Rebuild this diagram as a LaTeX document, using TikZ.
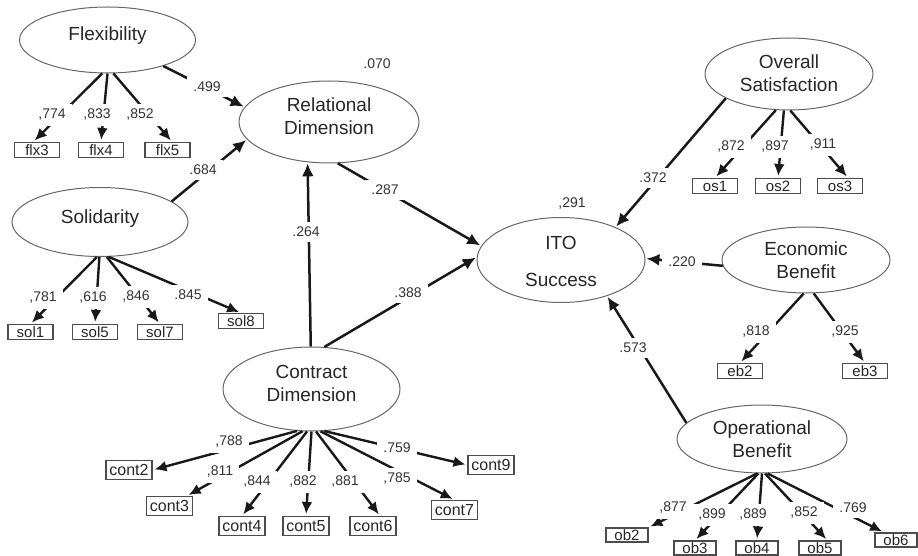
\documentclass[tikz,border=0pt]{standalone}
\usepackage{fontspec}
\setmainfont{Liberation Sans}
\usetikzlibrary{shapes.geometric,arrows.meta}
\newcommand{\latfont}{\fontsize{19}{22.5}\selectfont}
\newcommand{\coeffont}{\fontsize{14}{16}\selectfont}
\newcommand{\indfont}{\fontsize{15}{17}\selectfont}
\newcommand{\cindfont}{\fontsize{16}{18}\selectfont}
\begin{document}
\begin{tikzpicture}[x=1pt,y=-1pt,
  lat/.style={ellipse, draw=black!60, line width=1pt, inner sep=0pt},
  lt/.style={align=center, font=\latfont, text=black!85, inner sep=0pt},
  ind/.style={rectangle, draw=black!70, line width=1.1pt, inner sep=1pt, minimum width=45pt, minimum height=15pt, font=\indfont, text=black!85},
  cind/.style={ind, minimum width=46pt, minimum height=19pt, font=\cindfont},
  oind/.style={ind, minimum width=42pt, minimum height=14pt},
  coef/.style={fill=white, inner xsep=6pt, inner ysep=5pt, font=\coeffont, text=black!80},
  free/.style={font=\coeffont, text=black!80, inner sep=1pt},
  conn/.style={draw=black!90, line width=2.5pt, -{Latex[length=13pt,width=12pt]}, shorten >=1pt},
  load/.style={draw=black!90, line width=2.4pt, -{Latex[length=12pt,width=11pt]}, shorten >=2pt},
]
\useasboundingbox (0,0) rectangle (918,556);

% latent variables
\node[lat, minimum width=176pt, minimum height=66pt, label={[lt,yshift=4pt]center:Flexibility}] (flex) at (107.5,40) {};
\node[lat, minimum width=180pt, minimum height=82pt, label={[lt,yshift=6pt]center:{Relational\\Dimension}}] (rel) at (329,122) {};
\node[lat, minimum width=176pt, minimum height=69pt, label={[lt,yshift=3.5pt]center:Solidarity}] (soli) at (100,222) {};
\node[lat, minimum width=177pt, minimum height=84pt, label={[lt,yshift=5.5pt]center:{Contract\\Dimension}}] (cont) at (311.5,389) {};
\node[lat, minimum width=168pt, minimum height=85pt, label={[lt,yshift=-1.5pt]center:{ITO\\[14.5pt]Success}}] (ito) at (561,260) {};
\node[lat, minimum width=168pt, minimum height=72pt, label={[lt,yshift=1pt]center:{Overall\\Satisfaction}}] (os) at (789,74) {};
\node[lat, minimum width=168pt, minimum height=66pt, label={[lt]center:{Economic\\Benefit}}] (eb) at (806,260) {};
\node[lat, minimum width=170pt, minimum height=68pt, label={[lt]center:{Operational\\Benefit}}] (op) at (762,439) {};

% indicators
\node[ind] (flx3) at (37,150) {flx3};
\node[ind] (flx4) at (101,150) {flx4};
\node[ind] (flx5) at (167.5,150) {flx5};
\node[ind] (sol1) at (30.5,332) {sol1};
\node[ind] (sol5) at (95,332) {sol5};
\node[ind] (sol7) at (160,332) {sol7};
\node[ind] (sol8) at (241,321) {sol8};
\node[ind] (os1) at (715,186) {os1};
\node[ind] (os2) at (778,186) {os2};
\node[ind] (os3) at (840,186) {os3};
\node[ind] (eb2) at (740,371) {eb2};
\node[ind] (eb3) at (865,371) {eb3};
\node[oind] (ob2) at (627,535) {ob2};
\node[oind] (ob3) at (695,548) {ob3};
\node[oind] (ob4) at (757,548) {ob4};
\node[oind] (ob5) at (820,548) {ob5};
\node[oind] (ob6) at (896,540) {ob6};
\node[cind] (cont2) at (129,470) {cont2};
\node[cind] (cont3) at (169.5,506) {cont3};
\node[cind] (cont4) at (242,526) {cont4};
\node[cind] (cont5) at (306,526) {cont5};
\node[cind] (cont6) at (373,526) {cont6};
\node[cind] (cont7) at (454.5,510) {cont7};
\node[cind] (cont9) at (491,465) {cont9};

% structural paths
\draw[conn] (flex.335) -- (rel.170);
\draw[conn] (soli.16) -- (rel.192);
\draw[conn] (rel.282) -- (ito.170);
\draw[conn] (cont.91) -- (rel.242);
\draw[conn] (cont.73) -- (ito.178);
\draw[conn] (os.201) -- (ito.31);
\draw[conn] (eb.184) -- (ito.1);
\draw[conn] (op.168) -- (ito.322);

% loadings
\draw[load] (flex.261) -- (flx3.115);
\draw[load] (flex.270) -- (flx4.north);
\draw[load] (flex.280) -- (flx5.60);
\draw[load] (soli.265) -- (sol1.north);
\draw[load] (soli.269) -- (sol5.north);
\draw[load] (soli.281) -- (sol7.north);
\draw[load] (soli.284) -- (sol8.north);
\draw[load] (os.250) -- (os1.north);
\draw[load] (os.262) -- (os2.north);
\draw[load] (os.272) -- (os3.45);
\draw[load] (eb.266) -- (eb2.north);
\draw[load] (eb.283) -- (eb3.north);
\draw[load] (op.262) -- (ob2.north east);
\draw[load] (op.264) -- (ob3.north);
\draw[load] (op.270) -- (ob4.north);
\draw[load] (op.275) -- (ob5.45);
\draw[load] (op.279) -- (ob6.148);
\draw[load] (cont.251) -- (cont2.east);
\draw[load] (cont.258) -- (cont3.30);
\draw[load] (cont.264) -- (cont4.north);
\draw[load] (cont.270) -- (cont5.north);
\draw[load] (cont.276) -- (cont6.55);
\draw[load] (cont.282) -- (cont7.north);
\draw[load] (cont.287) -- (cont9.west);

% coefficients
\node[free] (r2rel) at (377,64) {.070};
\node[free] (r2ito) at (572,204) {,291};
\node[coef] (c499) at (207,87) {.499};
\node[coef] (c684) at (203,170) {.684};
\node[coef] (c287) at (385,190) {.287};
\node[coef] (c264) at (306,232) {.264};
\node[coef] (c388) at (408,293) {.388};
\node[coef] (c372) at (653,178) {.372};
\node[coef] (c220) at (682,262) {.220};
\node[coef] (c573) at (633,348) {.573};
\node[coef] (c774) at (52,115) {,774};
\node[coef] (c833) at (97,115) {,833};
\node[coef] (c852a) at (140,115) {,852};
\node[coef] (c781) at (43,298) {,781};
\node[coef] (c616) at (93,298) {,616};
\node[coef] (c846) at (136,297) {,846};
\node[coef] (c845) at (188,295) {.845};
\node[coef] (c872) at (731,147) {,872};
\node[coef] (c897) at (775,147) {,897};
\node[coef] (c911) at (823,145) {,911};
\node[coef] (c818) at (756,332) {,818};
\node[coef] (c925) at (845,332) {,925};
\node[coef] (c877) at (673,508) {,877};
\node[coef] (c899) at (712,515) {,899};
\node[coef] (c889) at (753,515) {,889};
\node[coef] (c852b) at (804,513) {,852};
\node[coef] (c769) at (853,508) {.769};
\node[coef] (c788) at (229,442) {,788};
\node[coef] (c811) at (220,472) {,811};
\node[coef] (c844) at (257,482) {,844};
\node[coef] (c882) at (303,482) {,882};
\node[coef] (c881) at (345,482) {,881};
\node[coef] (c785) at (397,479) {,785};
\node[coef] (c759) at (397,448) {.759};
\end{tikzpicture}
\end{document}
